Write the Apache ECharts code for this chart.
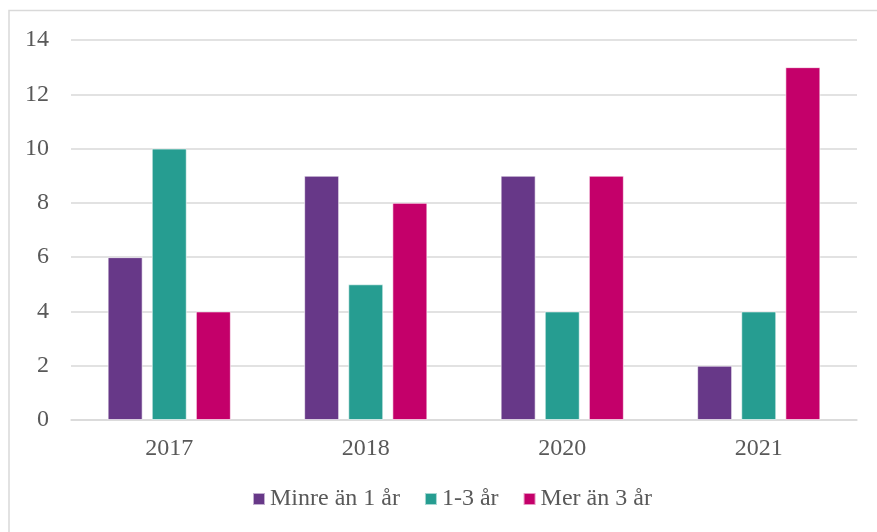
<!DOCTYPE html>
<html>
<head>
<meta charset="utf-8">
<script src="https://cdn.jsdelivr.net/npm/echarts@6/dist/echarts.min.js"></script>
<style>
  html, body { margin: 0; padding: 0; background: #fff; }
  #chart { width: 877px; height: 532px; }
</style>
</head>
<body>
<div id="chart"></div>
<script>
  // kategorier och serier
  var years = ['2017', '2018', '2020', '2021'];
  var minreAn1 = [6, 9, 9, 2];
  var ettTill3 = [10, 5, 4, 4];
  var merAn3 = [4, 8, 9, 13];
  var seriesNames = ['Minre än 1 år', '1-3 år', 'Mer än 3 år'];
  var colors = ['#673888', '#269d91', '#c4006a'];

  var font = '"Liberation Serif", "Times New Roman", serif';

  function bar(name, data, color) {
    return {
      name: name,
      type: 'bar',
      data: data,
      barWidth: 35,
      barGap: '26%',
      itemStyle: { color: color, borderColor: 'rgba(255,255,255,0.6)', borderWidth: 1 }
    };
  }

  var chart = echarts.init(document.getElementById('chart'));
  chart.setOption({
    animation: false,
    color: colors,
    textStyle: { fontFamily: font },
    graphic: [{
      type: 'rect',
      shape: { x: 9, y: 10.5, width: 900, height: 600 },
      style: { fill: 'none', stroke: '#d9d9d9', lineWidth: 1.5 },
      silent: true
    }],
    grid: { left: 71, right: 20, top: 40, bottom: 112 },
    legend: {
      top: 482,
      left: 247,
      itemWidth: 12,
      itemHeight: 12,
      itemGap: 24,
      icon: 'rect',
      textStyle: { fontFamily: font, fontSize: 24, color: '#595959' },
      data: seriesNames
    },
    xAxis: {
      type: 'category',
      data: years,
      axisLine: { lineStyle: { color: '#d9d9d9', width: 1.5 } },
      axisTick: { show: false },
      axisLabel: { fontFamily: font, fontSize: 24, color: '#595959', margin: 17 }
    },
    yAxis: {
      type: 'value',
      min: 0,
      max: 14,
      interval: 2,
      axisLine: { show: false },
      axisTick: { show: false },
      axisLabel: { fontFamily: font, fontSize: 24, color: '#595959', margin: 22 },
      splitLine: { lineStyle: { color: '#d9d9d9', width: 1.5 } }
    },
    series: [
      bar(seriesNames[0], minreAn1, colors[0]),
      bar(seriesNames[1], ettTill3, colors[1]),
      bar(seriesNames[2], merAn3, colors[2])
    ]
  });
</script>
</body>
</html>
